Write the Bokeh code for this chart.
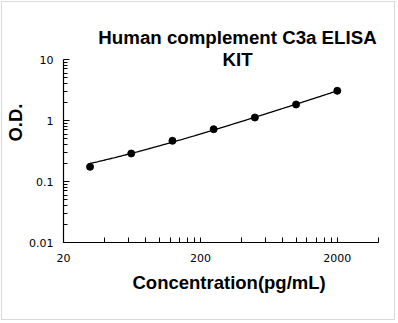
import numpy as np
from bokeh.plotting import figure
from bokeh.models import FixedTicker, CustomJSTickFormatter, Label, Range1d, Title
from bokeh.embed import file_html
from bokeh.resources import INLINE

# Standard curve readings
concentration = [31.25, 62.5, 125, 250, 500, 1000, 2000]   # pg/mL
od = [0.174, 0.288, 0.465, 0.72, 1.12, 1.83, 3.07]

# Axis ticks
x_major = [20, 200, 2000]
x_minor = [40, 60, 80, 100, 120, 140, 160, 180,
           400, 600, 800, 1000, 1200, 1400, 1600, 1800, 4000]
y_major = [0.01, 0.1, 1, 10]
y_minor = [0.02, 0.03, 0.04, 0.05, 0.06, 0.07, 0.08, 0.09,
           0.2, 0.3, 0.4, 0.5, 0.6, 0.7, 0.8, 0.9,
           2, 3, 4, 5, 6, 7, 8, 9]

title_lines = ["Human complement C3a ELISA", "KIT"]
x_label = "Concentration(pg/mL)"
y_label = "O.D."


def four_pl(prm, x):
    a, b, logc, d = prm
    return d + (a - d) / (1.0 + (x / 10.0 ** logc) ** b)


def fit_four_pl(x, y):
    """Unweighted 4-parameter logistic fit (Levenberg-Marquardt)."""
    x = np.asarray(x, float)
    y = np.asarray(y, float)
    best, best_sse = None, np.inf
    for c0 in (2.5, 3.0, 3.5, 4.0, 5.0):
        for d0 in (5.0, 10.0, 50.0):
            prm = np.array([0.1, 1.0, c0, d0])
            lam = 1e-2
            with np.errstate(all="ignore"):
                sse = np.sum((y - four_pl(prm, x)) ** 2)
                for _ in range(800):
                    r = y - four_pl(prm, x)
                    J = np.empty((len(x), 4))
                    for k in range(4):
                        h = 1e-6 * max(1.0, abs(prm[k]))
                        dp = np.zeros(4)
                        dp[k] = h
                        J[:, k] = (four_pl(prm + dp, x) - four_pl(prm - dp, x)) / (2 * h)
                    A = J.T @ J
                    g = J.T @ r
                    try:
                        step = np.linalg.solve(A + lam * np.diag(np.diag(A) + 1e-12), g)
                    except np.linalg.LinAlgError:
                        break
                    cand = prm + step
                    cand_sse = np.sum((y - four_pl(cand, x)) ** 2)
                    if np.isfinite(cand_sse) and cand_sse < sse:
                        prm, sse = cand, cand_sse
                        lam *= 0.3
                    else:
                        lam *= 10
                        if lam > 1e12:
                            break
            if np.isfinite(sse) and sse < best_sse:
                best, best_sse = prm, sse
    return best


prm = fit_four_pl(concentration, od)
fit_x = np.logspace(np.log10(concentration[0]), np.log10(concentration[-1]), 200)
fit_y = four_pl(prm, fit_x)

# Frame layout (canvas pixels): the frame reaches the canvas top so the
# title can be drawn inside it; the y axis line stops at 10.
W, H = 394, 319
LEFT, RIGHT, BOTTOM = 61, 18, 79
PX_PER_DECADE_Y = 61.0
TOP_GAP = 57  # pixels between canvas top and the "10" tick
y_top = 10 ** (1 + TOP_GAP / PX_PER_DECADE_Y)

p = figure(width=W, height=H,
           x_axis_type="log", y_axis_type="log",
           x_range=Range1d(20, 4000), y_range=Range1d(0.01, y_top),
           output_backend="svg", toolbar_location=None, title=None,
           min_border_left=LEFT, min_border_right=RIGHT,
           min_border_top=0, min_border_bottom=BOTTOM,
           styles={"border": "1px solid #d9d9d9", "margin": "1px"})
p.outline_line_color = None
p.grid.visible = False
p.background_fill_color = "white"
p.border_fill_color = "white"

fmt = CustomJSTickFormatter(code="return tick.toString();")

xa = p.xaxis[0]
xa.ticker = FixedTicker(ticks=x_major, minor_ticks=x_minor)
xa.formatter = fmt
xa.major_tick_in = 5
xa.major_tick_out = 0
xa.minor_tick_in = 5
xa.minor_tick_out = 0
xa.major_label_standoff = 11

ya = p.yaxis[0]
ya.ticker = FixedTicker(ticks=y_major, minor_ticks=y_minor)
ya.formatter = fmt
ya.bounds = (0.01, 10)
ya.major_tick_in = 6
ya.major_tick_out = 0
ya.minor_tick_in = 4
ya.minor_tick_out = 0
ya.major_label_standoff = 10
ya.axis_label = y_label
ya.axis_label_text_font = "Liberation Sans"
ya.axis_label_text_font_style = "bold"
ya.axis_label_text_font_size = "18.5px"
ya.axis_label_text_color = "black"
ya.axis_label_standoff = 0

for ax in (xa, ya):
    ax.axis_line_color = "black"
    ax.axis_line_width = 1.2
    ax.major_tick_line_color = "black"
    ax.minor_tick_line_color = "black"
    ax.major_label_text_font = "DejaVu Sans"
    ax.major_label_text_font_size = "11px"
    ax.major_label_text_color = "black"

p.line(fit_x, fit_y, line_color="black", line_width=1.3)
p.scatter(concentration, od, size=7, fill_color="black", line_color="black")

# Two-line title, positioned relative to the frame's lower-left corner
for txt, yy in zip(title_lines, [205, 183.3]):
    p.add_layout(Label(x=174, y=yy, x_units="screen", y_units="screen",
                       text=txt, text_align="center", text_baseline="alphabetic",
                       text_font="Liberation Sans", text_font_style="bold",
                       text_font_size="18.7px", text_color="black"))

# x-axis label below the tick labels
p.add_layout(Title(text=x_label, align="left", offset=69, standoff=10,
                   text_font="Liberation Sans", text_font_style="bold",
                   text_font_size="18.5px", text_color="black"), "below")

open("out.html", "w").write(file_html(p, INLINE))
